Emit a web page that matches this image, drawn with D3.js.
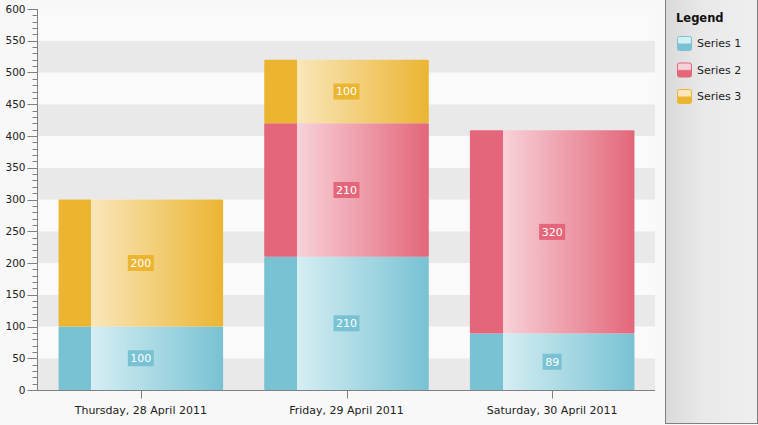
<!DOCTYPE html>
<html>
<head>
<meta charset="utf-8">
<script src="https://cdn.jsdelivr.net/npm/d3@7"></script>
<style>
  html, body { margin: 0; padding: 0; background: #f8f8f8; }
  #chart { width: 758px; height: 425px; }
  text { font-family: "DejaVu Sans", Verdana, sans-serif; }
</style>
</head>
<body>
<div id="chart"></div>
<script>
'use strict';

const categories = ["Thursday, 28 April 2011", "Friday, 29 April 2011", "Saturday, 30 April 2011"];
const seriesNames = ["Series 1", "Series 2", "Series 3"];
const series1 = [100, 210, 89];
const series2 = [0, 210, 320];
const series3 = [200, 100, 0];
const yTicks = [0, 50, 100, 150, 200, 250, 300, 350, 400, 450, 500, 550, 600];

// base colour, light start of the gradient
const palette = [
  { base: "#78c2d3", light: "#d5eef3" },
  { base: "#e3667a", light: "#f8d2d8" },
  { base: "#ebb532", light: "#f9e6ba" }
];

const width = 758;
const height = 425;
const margin = { top: 9, right: 103, bottom: 35, left: 38 };

const svg = d3.select("#chart")
  .append("svg")
  .attr("width", width)
  .attr("height", height);

const defs = svg.append("defs");

palette.forEach((c, i) => {
  const g = defs.append("linearGradient")
    .attr("id", `bar${i}`)
    .attr("x1", "0").attr("x2", "1").attr("y1", "0").attr("y2", "0");
  g.append("stop").attr("offset", "0").attr("stop-color", c.base);
  g.append("stop").attr("offset", "0.2").attr("stop-color", c.base);
  g.append("stop").attr("offset", "0.2").attr("stop-color", c.light);
  g.append("stop").attr("offset", "1").attr("stop-color", c.base);

  const s = defs.append("linearGradient")
    .attr("id", `swatch${i}`)
    .attr("x1", "0").attr("x2", "0").attr("y1", "0").attr("y2", "1");
  s.append("stop").attr("offset", "0").attr("stop-color", c.light);
  s.append("stop").attr("offset", "0.45").attr("stop-color", c.light);
  s.append("stop").attr("offset", "0.55").attr("stop-color", c.base);
  s.append("stop").attr("offset", "1").attr("stop-color", c.base);
});

const panel = defs.append("linearGradient")
  .attr("id", "panel")
  .attr("x1", "0").attr("x2", "1").attr("y1", "0").attr("y2", "0");
panel.append("stop").attr("offset", "0").attr("stop-color", "#d9d9d9");
panel.append("stop").attr("offset", "0.4").attr("stop-color", "#e9e9e9");
panel.append("stop").attr("offset", "1").attr("stop-color", "#efefef");

const plotRight = width - margin.right;

const x = d3.scaleBand()
  .domain(categories)
  .range([margin.left, plotRight])
  .paddingInner(0.2)
  .paddingOuter(0.1);

const y = d3.scaleLinear()
  .domain([0, 600])
  .range([height - margin.bottom, margin.top]);

// stripes
const stripes = svg.append("g");
stripes.selectAll("rect")
  .data(yTicks.slice(0, -1))
  .enter()
  .append("rect")
  .attr("x", margin.left)
  .attr("width", plotRight - margin.left)
  .attr("y", d => y(d + 50))
  .attr("height", d => y(d) - y(d + 50))
  .attr("fill", (d, i) => i % 2 === 0 ? "#e9e9e9" : "#fafafa");

// stacked data
const table = categories.map((c, i) => ({ cat: c, s0: series1[i], s1: series2[i], s2: series3[i] }));
const stacked = d3.stack().keys(["s0", "s1", "s2"])(table);

const bars = svg.append("g");
stacked.forEach((layer, si) => {
  const group = bars.append("g");
  const segs = group.selectAll("g")
    .data(layer.filter(d => d[1] > d[0]))
    .enter()
    .append("g");

  segs.append("rect")
    .attr("x", d => x(d.data.cat))
    .attr("width", x.bandwidth())
    .attr("y", d => y(d[1]))
    .attr("height", d => y(d[0]) - y(d[1]))
    .attr("rx", 1)
    .attr("fill", `url(#bar${si})`);

  // value label with box behind it
  segs.each(function(d){
    const seg = d3.select(this);
    const cx = x(d.data.cat) + x.bandwidth() / 2;
    const cy = (y(d[0]) + y(d[1])) / 2;
    const box = seg.append("rect")
      .attr("fill", palette[si].base);
    const label = seg.append("text")
      .attr("x", cx)
      .attr("y", cy)
      .attr("dy", "0.35em")
      .attr("text-anchor", "middle")
      .attr("fill", "#fff")
      .attr("font-size", 11)
      .text(d[1] - d[0]);
    const bbox = label.node().getBBox();
    box
      .attr("x", bbox.x - 2.5)
      .attr("y", cy - 8)
      .attr("width", bbox.width + 5)
      .attr("height", 16);
  });
});

// axes
const yAxis = svg.append("g")
  .attr("transform", `translate(${margin.left - 0.5}, 0)`);

yAxis.append("line")
  .attr("y1", y(600)).attr("y2", y(0) + 0.5)
  .attr("stroke", "#808080");

yAxis.selectAll("line.minor")
  .data(d3.range(0, 601, 10).filter(v => v % 50 !== 0))
  .enter()
  .append("line")
  .attr("class", "minor")
  .attr("x1", -5).attr("x2", 0)
  .attr("y1", d => Math.round(y(d)) + 0.5)
  .attr("y2", d => Math.round(y(d)) + 0.5)
  .attr("stroke", "#808080");

yAxis.selectAll("line.major")
  .data(yTicks)
  .enter()
  .append("line")
  .attr("class", "major")
  .attr("x1", -10).attr("x2", 0)
  .attr("y1", d => Math.round(y(d)) + 0.5)
  .attr("y2", d => Math.round(y(d)) + 0.5)
  .attr("stroke", "#808080");

yAxis.selectAll("text")
  .data(yTicks)
  .enter()
  .append("text")
  .attr("x", -12)
  .attr("y", d => y(d))
  .attr("dy", "0.35em")
  .attr("text-anchor", "end")
  .attr("font-size", 10.5)
  .attr("fill", "#222")
  .text(d => d);

const xAxis = svg.append("g")
  .attr("transform", `translate(0, ${Math.round(y(0)) + 0.5})`);

xAxis.append("line")
  .attr("x1", margin.left - 10).attr("x2", plotRight)
  .attr("stroke", "#808080");

xAxis.selectAll("line.tick")
  .data(categories)
  .enter()
  .append("line")
  .attr("class", "tick")
  .attr("x1", d => Math.round(x(d) + x.bandwidth() / 2) + 0.5)
  .attr("x2", d => Math.round(x(d) + x.bandwidth() / 2) + 0.5)
  .attr("y1", 0).attr("y2", 8)
  .attr("stroke", "#808080");

xAxis.selectAll("text")
  .data(categories)
  .enter()
  .append("text")
  .attr("x", d => x(d) + x.bandwidth() / 2)
  .attr("y", 23)
  .attr("text-anchor", "middle")
  .attr("font-size", 11)
  .attr("fill", "#222")
  .text(d => d);

// legend
const legend = svg.append("g")
  .attr("transform", `translate(${width - 93}, 0)`);

legend.append("rect")
  .attr("x", 0.5).attr("y", -5)
  .attr("width", 92).attr("height", 428.5)
  .attr("fill", "url(#panel)")
  .attr("stroke", "#808080");

legend.append("text")
  .attr("x", 11).attr("y", 22)
  .attr("font-size", 11.5)
  .attr("font-weight", "bold")
  .attr("fill", "#111")
  .text("Legend");

const items = legend.selectAll("g.item")
  .data(seriesNames)
  .enter()
  .append("g")
  .attr("class", "item")
  .attr("transform", (d, i) => `translate(12, ${36 + i * 26.5})`);

items.append("rect")
  .attr("x", 0.5).attr("y", 0.5)
  .attr("width", 14).attr("height", 14)
  .attr("rx", 2)
  .attr("fill", (d, i) => `url(#swatch${i})`)
  .attr("stroke", (d, i) => palette[i].base);

items.append("text")
  .attr("x", 20).attr("y", 7.5)
  .attr("dy", "0.35em")
  .attr("font-size", 11)
  .attr("fill", "#222")
  .text(d => d);
</script>
</body>
</html>
